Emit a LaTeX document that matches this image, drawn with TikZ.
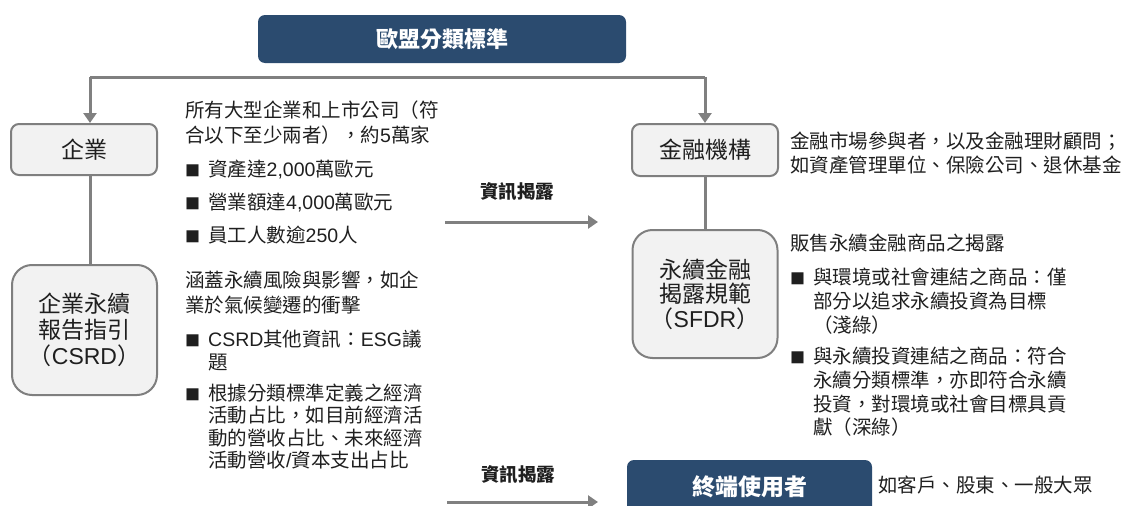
\documentclass[tikz,border=0pt]{standalone}
\usepackage{fontspec}
\usetikzlibrary{arrows.meta}
\setmainfont{Noto Sans CJK TC}[Script=CJK, Language=Chinese Traditional]
\newfontfamily\lat{Liberation Sans}
\definecolor{navy}{HTML}{2B4B6F}
\definecolor{boxfill}{HTML}{F2F2F2}
\definecolor{boxline}{HTML}{7F7F7F}
\definecolor{linegray}{HTML}{808080}
\definecolor{ink}{HTML}{1F1F1F}
\newcommand{\bul}{\makebox[23pt][l]{\fontsize{15}{15}\selectfont ■}}
\newcommand{\bulsp}{\hspace*{23pt}}
\tikzset{
  lightbox/.style={draw=boxline, line width=2pt, fill=boxfill, rounded corners=8pt,
    inner sep=0pt, align=center, text=ink, font=\fontsize{23}{26}\selectfont},
  bigbox/.style={lightbox, rounded corners=20pt},
  darkbox/.style={fill=navy, rounded corners=7pt, inner sep=0pt, text=white,
    font=\fontsize{22}{26}\selectfont\bfseries},
  desc/.style={anchor=base west, inner sep=0pt, text=ink, font=\fontsize{19.5}{23}\selectfont},
  lbl/.style={inner sep=0pt, text=ink, font=\fontsize{18.5}{22}\selectfont\bfseries},
  conn/.style={draw=linegray, line width=3pt},
  arr/.style={conn, -{Triangle[length=10pt,width=13pt]}},
}
\begin{document}
\begin{tikzpicture}[x=1pt,y=-1pt]
\useasboundingbox (0,0) rectangle (1128,506);
% boxes
\node[darkbox, minimum width=368pt, minimum height=48pt] (title) at (442,39) {歐盟分類標準};
\node[lightbox, minimum width=146pt, minimum height=51pt] (ent) at (84,149.5) {企業};
\node[bigbox, minimum width=145pt, minimum height=130pt] (csrd) at (84.5,330)
  {企業永續\\報告指引\\（{\lat CSRD}）};
\node[lightbox, minimum width=146pt, minimum height=52pt] (fin) at (705,150) {金融機構};
\node[bigbox, minimum width=145pt, minimum height=128pt, font=\fontsize{23}{24.5}\selectfont] (sfdr) at (705,294)
  {永續金融\\揭露規範\\（{\lat SFDR}）};
\node[darkbox, minimum width=245pt, minimum height=54pt, font=\fontsize{23}{26}\selectfont\bfseries] (end) at (749.5,487) {終端使用者};
% connectors
\coordinate (hl) at (90,77);
\coordinate (hr) at (705,77);
\draw[conn] (hl) -- (hr);
\draw[arr] (hl) -- (hl |- ent.north);
\draw[arr] (hr) -- (fin.north);
\draw[conn] (hl |- ent.south) -- (hl |- csrd.north);
\draw[conn] (fin.south) -- (sfdr.north);
\coordinate (a1s) at (445,222);
\coordinate (a1e) at (598,222);
\coordinate (a2s) at (447,502);
\coordinate (a2e) at (598,502);
\draw[arr] (a1s) -- (a1e);
\draw[arr] (a2s) -- (a2e);
\node[lbl] (lab1) at (517,192) {資訊揭露};
\node[lbl] (lab2) at (518,475) {資訊揭露};
% block 1
\node[desc] (b1l1) at (185,117.5) {所有大型企業和上市公司（符};
\node[desc] (b1l2) at (185,142.5) {合以下至少兩者），約{\lat 5}萬家};
\node[desc] (b1b1) at (185,176.5) {\bul 資產達{\lat 2,000}萬歐元};
\node[desc] (b1b2) at (185,209.5) {\bul 營業額達{\lat 4,000}萬歐元};
\node[desc] (b1b3) at (185,242.5) {\bul 員工人數逾{\lat 250}人};
% block 2
\node[desc] (b2l1) at (185,287.5) {涵蓋永續風險與影響，如企};
\node[desc] (b2l2) at (185,312.5) {業於氣候變遷的衝擊};
\node[desc] (b2b1) at (185,346.5) {\bul {\lat CSRD}其他資訊：{\lat ESG}議};
\node[desc] (b2b1b) at (185,369.5) {\bulsp 題};
\node[desc] (b2b2) at (185,400.5) {\bul 根據分類標準定義之經濟};
\node[desc] (b2b2b) at (185,422.5) {\bulsp 活動占比，如目前經濟活};
\node[desc] (b2b2c) at (185,445.5) {\bulsp 動的營收占比、未來經濟};
\node[desc] (b2b2d) at (185,467.5) {\bulsp 活動營收{\lat /}資本支出占比};
% financial description
\node[desc] (fd1) at (790,148.4) {金融市場參與者，以及金融理財顧問；};
\node[desc] (fd2) at (790,172.4) {如資產管理單位、保險公司、退休基金};
% SFDR description
\node[desc] (sd0) at (790,250.4) {販售永續金融商品之揭露};
\node[desc] (sd1) at (790,284.4) {\bul 與環境或社會連結之商品：僅};
\node[desc] (sd1b) at (790,308.4) {\bulsp 部分以追求永續投資為目標};
\node[desc] (sd1c) at (790,332.4) {\bulsp （淺綠）};
\node[desc] (sd2) at (790,363.4) {\bul 與永續投資連結之商品：符合};
\node[desc] (sd2b) at (790,387.4) {\bulsp 永續分類標準，亦即符合永續};
\node[desc] (sd2c) at (790,411.4) {\bulsp 投資，對環境或社會目標具貢};
\node[desc] (sd2d) at (790,434.4) {\bulsp 獻（深綠）};
% end users description
\node[desc] (ed) at (878,492.4) {如客戶、股東、一般大眾};
\end{tikzpicture}
\end{document}
